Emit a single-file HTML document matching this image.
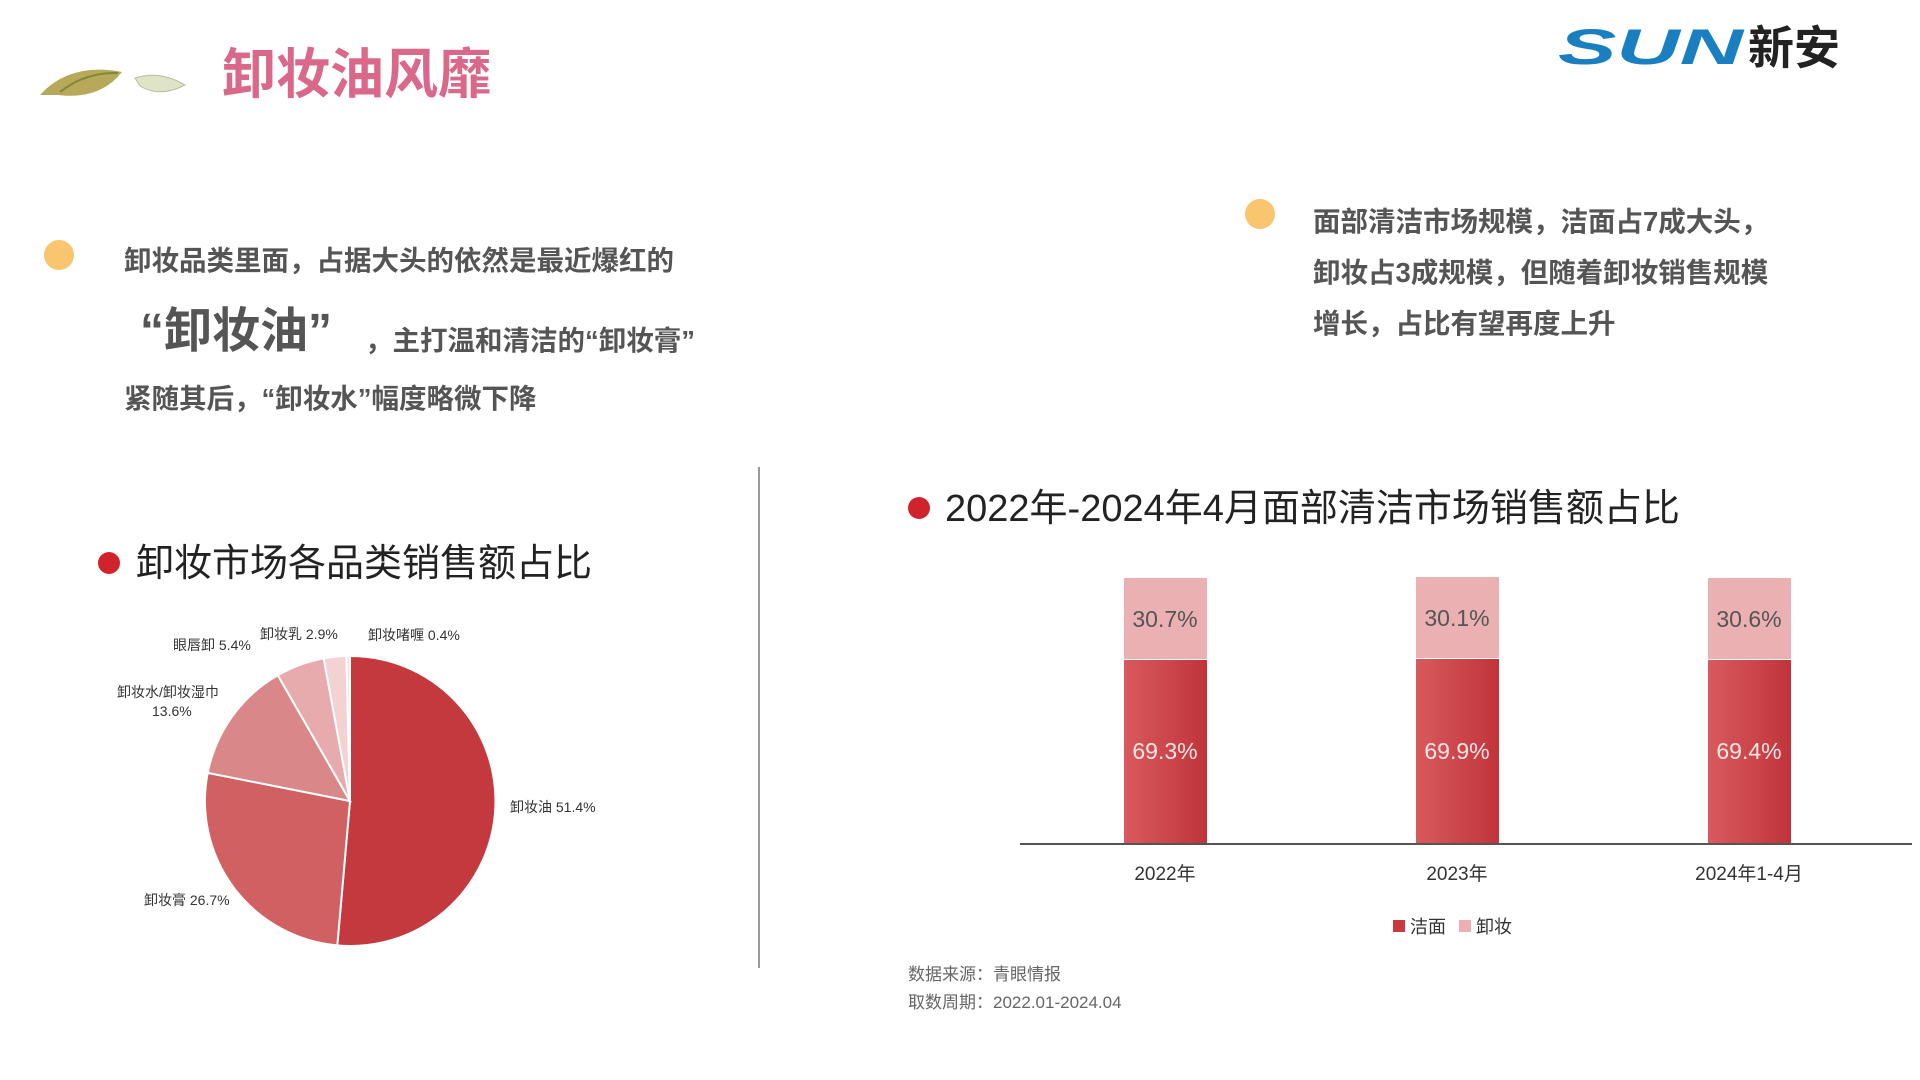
<!DOCTYPE html>
<html><head><meta charset="utf-8"><style>
html,body{margin:0;padding:0;background:#fff;}
svg{display:block}
text{font-family:"Liberation Sans","Noto Sans CJK SC",sans-serif;}
</style></head><body>
<svg width="1920" height="1080" viewBox="0 0 1920 1080" xmlns="http://www.w3.org/2000/svg">
<defs>
<linearGradient id="g" x1="0" x2="1" y1="0" y2="0"><stop offset="0" stop-color="#d85a5e"/><stop offset="1" stop-color="#c0343a"/></linearGradient>
</defs>
<path d="M40 95 Q70 62 122 72 Q100 100 58 95 Z" fill="#b8a85a"/>
<path d="M60 92 Q85 72 118 73" stroke="#7a8a3a" stroke-width="2" fill="none"/>
<path d="M135 78 Q160 70 185 85 Q160 98 140 86 Z" fill="#dfe4c8" stroke="#b7bd98"/>
<text x="222" y="93" font-size="54" fill="#d9688a" font-weight="bold">卸妆油风靡</text>
<text x="1558" y="64" font-size="50" font-weight="bold" font-style="italic" fill="#1a7fc1" textLength="185" lengthAdjust="spacingAndGlyphs">SUN</text>
<text x="1748" y="64" font-size="46" font-weight="bold" fill="#222">新安</text>
<circle cx="59" cy="255" r="15" fill="#f9c56e"/>
<g fill="#555" font-weight="bold">
<text x="124" y="270" font-size="27.5">卸妆品类里面，占据大头的依然是最近爆红的</text>
<text x="140" y="347" font-size="48">“卸妆油”</text>
<text x="365" y="350" font-size="27.5">，主打温和清洁的“卸妆膏”</text>
<text x="124" y="408" font-size="27.5">紧随其后，“卸妆水”幅度略微下降</text>
</g>
<circle cx="1260" cy="214" r="15" fill="#f9c56e"/>
<g fill="#555" font-weight="bold" font-size="27.5">
<text x="1313" y="231">面部清洁市场规模，洁面占7成大头，</text>
<text x="1313" y="282">卸妆占3成规模，但随着卸妆销售规模</text>
<text x="1313" y="333">增长，占比有望再度上升</text>
</g>
<line x1="759" y1="467" x2="759" y2="968" stroke="#999" stroke-width="2"/>
<circle cx="109" cy="563" r="11" fill="#d0232b"/>
<text x="136" y="576" font-size="38" fill="#222">卸妆市场各品类销售额占比</text>
<g transform="translate(-2,-7)">
<g stroke="#fff" stroke-width="2">
<path d="M352 808 L352 663 A145 145 0 1 1 339.3 952.4 Z" fill="#c4393d"/>
<path d="M352 808 L339.3 952.4 A145 145 0 0 1 209.7 779.9 Z" fill="#d06062"/>
<path d="M352 808 L209.7 779.9 A145 145 0 0 1 279.8 682.3 Z" fill="#d98789"/>
<path d="M352 808 L279.8 682.3 A145 145 0 0 1 325.7 665.4 Z" fill="#e8abad"/>
<path d="M352 808 L325.7 665.4 A145 145 0 0 1 348.4 663 Z" fill="#f2d2d2"/>
<path d="M352 808 L348.4 663 A145 145 0 0 1 352 663 Z" fill="#f6e0e0"/>
</g>
</g>
<g font-size="14" fill="#333">
<text x="510" y="812">卸妆油 51.4%</text>
<text x="144" y="905">卸妆膏 26.7%</text>
<text x="117" y="697">卸妆水/卸妆湿巾</text>
<text x="152" y="716">13.6%</text>
<text x="173" y="650">眼唇卸 5.4%</text>
<text x="260" y="639">卸妆乳 2.9%</text>
<text x="368" y="640">卸妆啫喱 0.4%</text>
</g>
<circle cx="919" cy="508" r="11" fill="#d0232b"/>
<text x="945" y="521" font-size="38" fill="#222">2022年-2024年4月面部清洁市场销售额占比</text>
<rect x="1124" y="578" width="83" height="81" fill="#ebb0b2"/>
<rect x="1124" y="660" width="83" height="183" fill="url(#g)"/>
<rect x="1416" y="577" width="83" height="81" fill="#ebb0b2"/>
<rect x="1416" y="659" width="83" height="184" fill="url(#g)"/>
<rect x="1708" y="578" width="83" height="81" fill="#ebb0b2"/>
<rect x="1708" y="660" width="83" height="183" fill="url(#g)"/>
<line x1="1020" y1="844" x2="1912" y2="844" stroke="#555" stroke-width="2"/>
<g font-size="23" text-anchor="middle">
<text x="1165" y="627" fill="#555">30.7%</text>
<text x="1457" y="626" fill="#555">30.1%</text>
<text x="1749" y="627" fill="#555">30.6%</text>
<text x="1165" y="759" fill="#fbe6e6">69.3%</text>
<text x="1457" y="759" fill="#fbe6e6">69.9%</text>
<text x="1749" y="759" fill="#fbe6e6">69.4%</text>
</g>
<g font-size="19" text-anchor="middle" fill="#333">
<text x="1165" y="880">2022年</text>
<text x="1457" y="880">2023年</text>
<text x="1749" y="880">2024年1-4月</text>
</g>
<rect x="1393" y="920" width="12" height="12" fill="#c9393e"/>
<text x="1410" y="933" font-size="18" fill="#333">洁面</text>
<rect x="1459" y="920" width="12" height="12" fill="#ebb0b2"/>
<text x="1476" y="933" font-size="18" fill="#333">卸妆</text>
<g font-size="17" fill="#666">
<text x="908" y="980">数据来源：青眼情报</text>
<text x="908" y="1008">取数周期：2022.01-2024.04</text>
</g>
</svg>
</body></html>
